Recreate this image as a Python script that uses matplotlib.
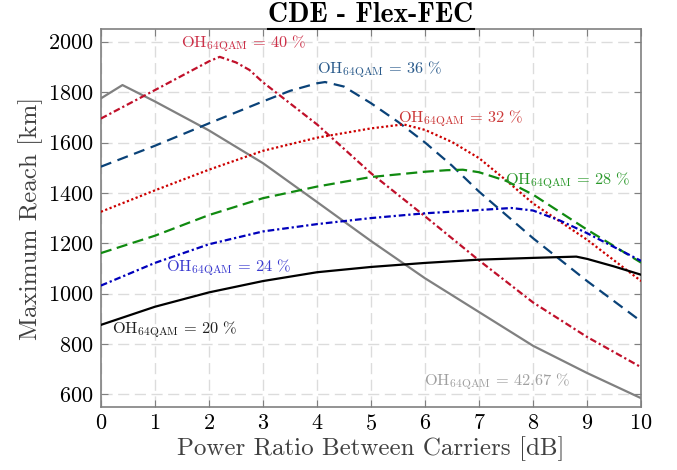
import numpy as np
import matplotlib
matplotlib.use("Agg")
import matplotlib.pyplot as plt
from matplotlib.lines import Line2D

plt.rcParams['font.family'] = 'serif'
plt.rcParams['font.serif'] = ['cmr10']
plt.rcParams['mathtext.fontset'] = 'cm'
plt.rcParams['axes.formatter.use_mathtext'] = True

# Maximum reach vs. power ratio, one curve per overhead
x_oh20 = [0, 1, 2, 3, 4, 5, 6, 7, 8, 8.8, 9, 9.5, 10]
y_oh20 = [876, 948, 1005, 1050, 1085, 1106, 1122, 1135, 1142, 1147, 1138, 1108, 1075]

x_oh24 = [0, 1, 2, 3, 4, 5, 6, 7, 7.6, 8, 8.5, 9, 10]
y_oh24 = [1032, 1122, 1196, 1247, 1276, 1300, 1319, 1332, 1340, 1330, 1290, 1240, 1130]

x_oh28 = [0, 1, 2, 3, 4, 5, 6, 6.4, 6.7, 7, 7.5, 8, 9, 10]
y_oh28 = [1161, 1230, 1312, 1379, 1425, 1463, 1484, 1490, 1492, 1482, 1448, 1393, 1254, 1123]

x_oh32 = [0, 1, 2, 3, 4, 5, 5.6, 6, 6.5, 7, 7.5, 8, 9, 10]
y_oh32 = [1325, 1410, 1492, 1567, 1619, 1656, 1672, 1650, 1602, 1538, 1450, 1358, 1214, 1050]

x_oh36 = [0, 1, 2, 3, 3.5, 4, 4.15, 4.5, 5, 5.5, 6, 6.5, 7, 8, 9, 10]
y_oh36 = [1504, 1587, 1676, 1763, 1805, 1835, 1840, 1822, 1756, 1682, 1600, 1508, 1405, 1220, 1050, 890]

x_oh40 = [0, 1, 2, 2.2, 2.5, 2.75, 3, 4, 5, 6, 7, 8, 9, 10]
y_oh40 = [1695, 1808, 1922, 1940, 1918, 1888, 1839, 1672, 1478, 1307, 1132, 965, 828, 708]

x_oh4267 = [0, 0.4, 1, 2, 3, 4, 5, 6, 7, 8, 9, 10]
y_oh4267 = [1775, 1828, 1763, 1648, 1518, 1364, 1209, 1061, 927, 793, 685, 585]

fig = plt.figure(figsize=(6.77, 4.70), dpi=100)
ax = fig.add_axes([0.149, 0.134, 0.798, 0.804])

lw = 1.6
ax.plot(x_oh4267, y_oh4267, color='#808080', lw=lw, zorder=3)
ax.plot(x_oh40, y_oh40, color='#c0102a', lw=lw, dashes=(3, 1.3, 1, 1.3), zorder=3)
ax.plot(x_oh36, y_oh36, color='#0a4278', lw=lw, dashes=(5, 3), zorder=3)
ax.plot(x_oh32, y_oh32, color='#cc0000', lw=lw, dashes=(1, 1.1), zorder=3)
ax.plot(x_oh28, y_oh28, color='#108a10', lw=lw, dashes=(5, 2.5), zorder=3)
ax.plot(x_oh24, y_oh24, color='#0000bb', lw=lw, dashes=(3, 1.3, 1, 1.3), zorder=3)
ax.plot(x_oh20, y_oh20, color='black', lw=lw, zorder=3)

lab_size = 11.8
ax.text(1.48, 1992, r'$\mathrm{OH}_{\mathrm{64QAM}}\,=\,40\ \%$', color='#cc3048', fontsize=lab_size, va='center')
ax.text(4.0, 1888, r'$\mathrm{OH}_{\mathrm{64QAM}}\,=\,36\ \%$', color='#2c5c8c', fontsize=lab_size, va='center')
ax.text(5.5, 1696, r'$\mathrm{OH}_{\mathrm{64QAM}}\,=\,32\ \%$', color='#cc3838', fontsize=lab_size, va='center')
ax.text(7.48, 1448, r'$\mathrm{OH}_{\mathrm{64QAM}}\,=\,28\ \%$', color='#2a982a', fontsize=lab_size, va='center')
ax.text(1.2, 1104, r'$\mathrm{OH}_{\mathrm{64QAM}}\,=\,24\ \%$', color='#3a3ad0', fontsize=lab_size, va='center')
ax.text(0.2, 856, r'$\mathrm{OH}_{\mathrm{64QAM}}\,=\,20\ \%$', color='#202020', fontsize=lab_size, va='center')
ax.text(5.98, 652, r'$\mathrm{OH}_{\mathrm{64QAM}}\,=\,42.67\ \%$', color='#a0a0a0', fontsize=lab_size, va='center')

ax.set_xlim(0, 10)
ax.set_ylim(550, 2050)
ax.set_xticks(range(0, 11))
ax.set_yticks(range(600, 2001, 200))
ax.grid(True, color='#dcdcdc', lw=1, dashes=(8, 4))
ax.set_axisbelow(True)
for s in ax.spines.values():
    s.set_color('#808080')
    s.set_linewidth(1.2)
ax.tick_params(direction='in', length=5, color='#808080', labelsize=16,
               top=True, right=True, pad=5)

ax.set_xlabel('Power Ratio Between Carriers [dB]', fontsize=18, color='#404040', labelpad=2)
ax.set_ylabel('Maximum Reach [km]', fontsize=18, color='#404040', labelpad=4)

title = ax.set_title('CDE - Flex-FEC', fontsize=20, fontfamily='cmb10', pad=5)
fig.canvas.draw()
bb = title.get_window_extent().transformed(fig.transFigure.inverted())
fig.add_artist(Line2D([bb.x0, bb.x1], [bb.y0 - 0.002, bb.y0 - 0.002],
                      transform=fig.transFigure, color='black', lw=1.5))

fig.savefig('out.png', dpi=100)
